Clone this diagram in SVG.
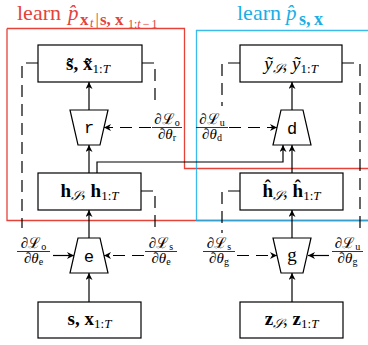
<svg xmlns="http://www.w3.org/2000/svg" width="368" height="345" viewBox="0 0 368 345">
<style>
.m{font-family:"Liberation Serif","DejaVu Serif",serif;fill:#000}
.b{font-weight:bold}
.i{font-style:italic}
.box{fill:#fff;stroke:#000;stroke-width:1.2}
.c{fill:none;stroke:#000;stroke-width:1.2}
.d{stroke-dasharray:12 7}
.fr{stroke:#000;stroke-width:0.8}
.red{fill:none;stroke:#e5423a;stroke-width:1.3}
.blue{fill:none;stroke:#1aaee6;stroke-width:1.3}
.rt{fill:#e5423a}
.bt{fill:#1aaee6}
</style>
<defs>
<marker id="ah" viewBox="0 0 10 10" refX="10" refY="5" markerWidth="7" markerHeight="7" markerUnits="userSpaceOnUse" orient="auto">
<path d="M0,0 L10,5 L0,10 L3,5 Z" fill="#000"/>
</marker>
</defs>
<rect width="368" height="345" fill="#fff"/>
<g id="regions">
<path class="red" d="M7,28.5 H184.5 V168.5 H370 M370,220.5 H7 V28.5"/>
<path class="blue" d="M370,30.5 H196.5 V220.5 H370" opacity="0.85"/>
<g id="title-red">
<text class="m rt" x="17" y="20" font-size="22">learn</text>
<text class="m rt i" x="68" y="20" font-size="21">p̂</text>
<text class="m rt b" x="80" y="25" font-size="17">x</text>
<text class="m rt i" x="90" y="27" font-size="12">t</text>
<text class="m rt" x="95.5" y="25" font-size="17">|</text>
<text class="m rt b" x="100" y="25" font-size="17">s,</text>
<text class="m rt b" x="115" y="25" font-size="17">x</text>
<text class="m rt" x="128" y="28" font-size="12">1:<tspan class="i">t</tspan><tspan dx="2">−</tspan><tspan dx="2">1</tspan></text>
</g>
<g id="title-blue">
<text class="m bt" x="237" y="20" font-size="22">learn</text>
<text class="m bt i" x="286" y="20" font-size="21">p̂</text>
<text class="m bt b" x="299" y="25" font-size="18">s,</text>
<text class="m bt b" x="314" y="25" font-size="18">x</text>
</g>
</g>
<g id="connectors">
<path class="c" d="M89,302 V273" marker-end="url(#ah)"/>
<path class="c" d="M89,238 V210" marker-end="url(#ah)"/>
<path class="c" d="M89,173 V145" marker-end="url(#ah)"/>
<path class="c" d="M89,110 V82" marker-end="url(#ah)"/>
<path class="c" d="M292,302 V273" marker-end="url(#ah)"/>
<path class="c" d="M292,238 V210" marker-end="url(#ah)"/>
<path class="c" d="M292,173 V145" marker-end="url(#ah)"/>
<path class="c" d="M292,110 V82" marker-end="url(#ah)"/>
<path class="c" d="M97,173 V162 H283 V145" marker-end="url(#ah)"/>
<path class="c d" d="M38,63 H22 V228"/>
<path class="c d" d="M142,63 H155 V106"/>
<path class="c d" d="M141,191 H155 V233"/>
<path class="c d" d="M240,63 H222 V106"/>
<path class="c d" d="M240,191 H222 V233"/>
<path class="c d" d="M342,63 H360 V228"/>
<path class="c d" d="M151,127.5 H104" marker-end="url(#ah)"/>
<path class="c d" d="M229,127.5 H277" marker-end="url(#ah)"/>
<path class="c" d="M53,255.5 H74" marker-end="url(#ah)"/>
<path class="c d" d="M144,255.5 H104" marker-end="url(#ah)"/>
<path class="c d" d="M237,255.5 H277" marker-end="url(#ah)"/>
<path class="c" d="M329,255.5 H308" marker-end="url(#ah)"/>
</g>
<g id="grad-o-r">
<text class="m" x="167" y="124" font-size="15" text-anchor="middle">∂ℒ<tspan font-size="10" dy="2">o</tspan></text>
<line class="fr" x1="152" y1="127.5" x2="182" y2="127.5"/>
<text class="m" x="167" y="139" font-size="15" text-anchor="middle">∂<tspan class="i">θ</tspan><tspan font-size="10" dy="2">r</tspan></text>
</g>
<g id="grad-u-d">
<text class="m" x="212" y="124" font-size="15" text-anchor="middle">∂ℒ<tspan font-size="10" dy="2">u</tspan></text>
<line class="fr" x1="196" y1="127.5" x2="228" y2="127.5"/>
<text class="m" x="212" y="139" font-size="15" text-anchor="middle">∂<tspan class="i">θ</tspan><tspan font-size="10" dy="2">d</tspan></text>
</g>
<g id="grad-o-e">
<text class="m" x="33.5" y="248" font-size="15" text-anchor="middle">∂ℒ<tspan font-size="10" dy="2">o</tspan></text>
<line class="fr" x1="17" y1="251.5" x2="50" y2="251.5"/>
<text class="m" x="33.5" y="263" font-size="15" text-anchor="middle">∂<tspan class="i">θ</tspan><tspan font-size="10" dy="2">e</tspan></text>
</g>
<g id="grad-s-e">
<text class="m" x="161" y="248" font-size="15" text-anchor="middle">∂ℒ<tspan font-size="10" dy="2">s</tspan></text>
<line class="fr" x1="145" y1="251.5" x2="177" y2="251.5"/>
<text class="m" x="161" y="263" font-size="15" text-anchor="middle">∂<tspan class="i">θ</tspan><tspan font-size="10" dy="2">e</tspan></text>
</g>
<g id="grad-s-g">
<text class="m" x="219" y="248" font-size="15" text-anchor="middle">∂ℒ<tspan font-size="10" dy="2">s</tspan></text>
<line class="fr" x1="203" y1="251.5" x2="235" y2="251.5"/>
<text class="m" x="219" y="263" font-size="15" text-anchor="middle">∂<tspan class="i">θ</tspan><tspan font-size="10" dy="2">g</tspan></text>
</g>
<g id="grad-u-g">
<text class="m" x="347.5" y="248" font-size="15" text-anchor="middle">∂ℒ<tspan font-size="10" dy="2">u</tspan></text>
<line class="fr" x1="332" y1="251.5" x2="363" y2="251.5"/>
<text class="m" x="347.5" y="263" font-size="15" text-anchor="middle">∂<tspan class="i">θ</tspan><tspan font-size="10" dy="2">g</tspan></text>
</g>
<g id="node-xtilde">
<rect class="box" x="38" y="45" width="104" height="37"/>
<text class="m" x="88" y="70" font-size="19" text-anchor="middle"><tspan class="b">s̃, x̃</tspan><tspan font-size="13" dy="3">1:</tspan><tspan class="i" font-size="13">T</tspan></text>
</g>
<g id="node-ytilde">
<rect class="box" x="240" y="45" width="102" height="37"/>
<text class="m" x="291" y="70" font-size="19" text-anchor="middle"><tspan class="i">ỹ</tspan><tspan class="i" font-size="13" dy="3">𝒮</tspan><tspan dy="-3">, </tspan><tspan class="i">ỹ</tspan><tspan font-size="13" dy="3">1:</tspan><tspan class="i" font-size="13">T</tspan></text>
</g>
<g id="node-r">
<polygon class="box" points="70,110 108,110 100,145 78,145"/>
<text x="89" y="133" font-size="17" text-anchor="middle" font-family="Liberation Mono, monospace">r</text>
</g>
<g id="node-d">
<polygon class="box" points="281,110 303,110 311,145 273,145"/>
<text x="292" y="134" font-size="17" text-anchor="middle" font-family="Liberation Mono, monospace">d</text>
</g>
<g id="node-h">
<rect class="box" x="38" y="173" width="103" height="37"/>
<text class="m" x="89.5" y="197" font-size="19" text-anchor="middle"><tspan class="b">h</tspan><tspan class="i" font-size="13" dy="3">𝒮</tspan><tspan dy="-3">, </tspan><tspan class="b">h</tspan><tspan font-size="13" dy="3">1:</tspan><tspan class="i" font-size="13">T</tspan></text>
</g>
<g id="node-hhat">
<rect class="box" x="240" y="173" width="103" height="37"/>
<text class="m" x="291.5" y="197" font-size="19" text-anchor="middle"><tspan class="b">ĥ</tspan><tspan class="i" font-size="13" dy="3">𝒮</tspan><tspan dy="-3">, </tspan><tspan class="b">ĥ</tspan><tspan font-size="13" dy="3">1:</tspan><tspan class="i" font-size="13">T</tspan></text>
</g>
<g id="node-e">
<polygon class="box" points="78,238 100,238 108,273 70,273"/>
<text x="89" y="262" font-size="17" text-anchor="middle" font-family="Liberation Sans, sans-serif">e</text>
</g>
<g id="node-g">
<polygon class="box" points="273,238 311,238 303,273 281,273"/>
<text class="m" x="292" y="261" font-size="19" text-anchor="middle">g</text>
</g>
<g id="node-x">
<rect class="box" x="38" y="302" width="103" height="36"/>
<text class="m" x="89.5" y="325" font-size="19" text-anchor="middle"><tspan class="b">s, x</tspan><tspan font-size="13" dy="3">1:</tspan><tspan class="i" font-size="13">T</tspan></text>
</g>
<g id="node-z">
<rect class="box" x="240" y="302" width="103" height="36"/>
<text class="m" x="291.5" y="325" font-size="19" text-anchor="middle"><tspan class="b">z</tspan><tspan class="i" font-size="13" dy="3">𝒮</tspan><tspan dy="-3">, </tspan><tspan class="b">z</tspan><tspan font-size="13" dy="3">1:</tspan><tspan class="i" font-size="13">T</tspan></text>
</g>
</svg>
